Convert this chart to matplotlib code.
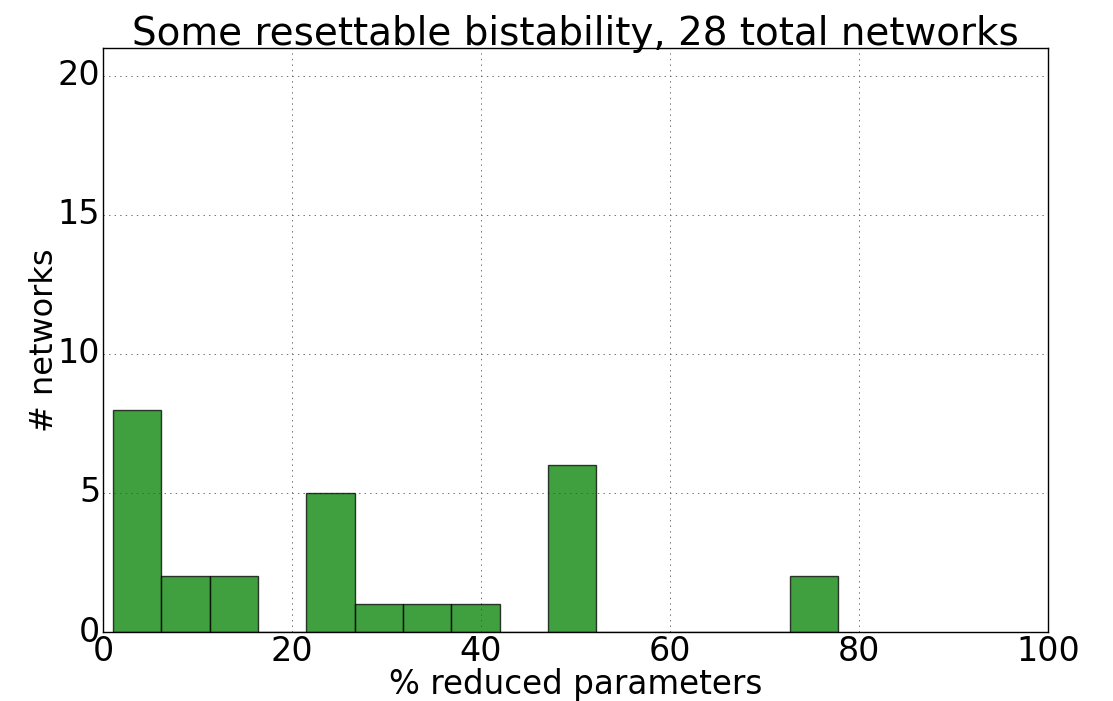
import matplotlib
matplotlib.use("Agg")
import matplotlib.pyplot as plt
import numpy as np

plt.style.use("classic")

# Histogram of the share of parameters removed per network
bin_lo = 1.06
bin_hi = 77.8
n_bins = 15
counts = [8, 2, 2, 0, 5, 1, 1, 1, 0, 6, 0, 0, 0, 0, 2]
total_networks = 28

x_ticks = [0, 20, 40, 60, 80, 100]
y_ticks = [0, 5, 10, 15, 20]

edges = np.linspace(bin_lo, bin_hi, n_bins + 1)
centers = (edges[:-1] + edges[1:]) / 2

fig = plt.figure(figsize=(11.13, 7.01), dpi=100)
ax = fig.add_axes([0.0925, 0.0984, 0.9416 - 0.0925, 0.9315 - 0.0984])

ax.hist(centers, bins=edges, weights=counts, color="g", alpha=0.75,
        edgecolor="k", linewidth=1.0)

ax.set_xlim(0, 100)
ax.set_ylim(0, 21)
ax.set_xticks(x_ticks)
ax.set_yticks(y_ticks)
ax.tick_params(labelsize=24, length=0, pad=2)
ax.grid(True, color="0.35", linestyle=":", linewidth=0.6)
ax.set_axisbelow(True)

ax.set_title(f"Some resettable bistability, {total_networks} total networks",
             fontsize=28, pad=2)
ax.set_xlabel("% reduced parameters", fontsize=23.5, labelpad=0)
ax.set_ylabel("# networks", fontsize=23, labelpad=-2)

fig.savefig("out.png", dpi=100, facecolor="white")
